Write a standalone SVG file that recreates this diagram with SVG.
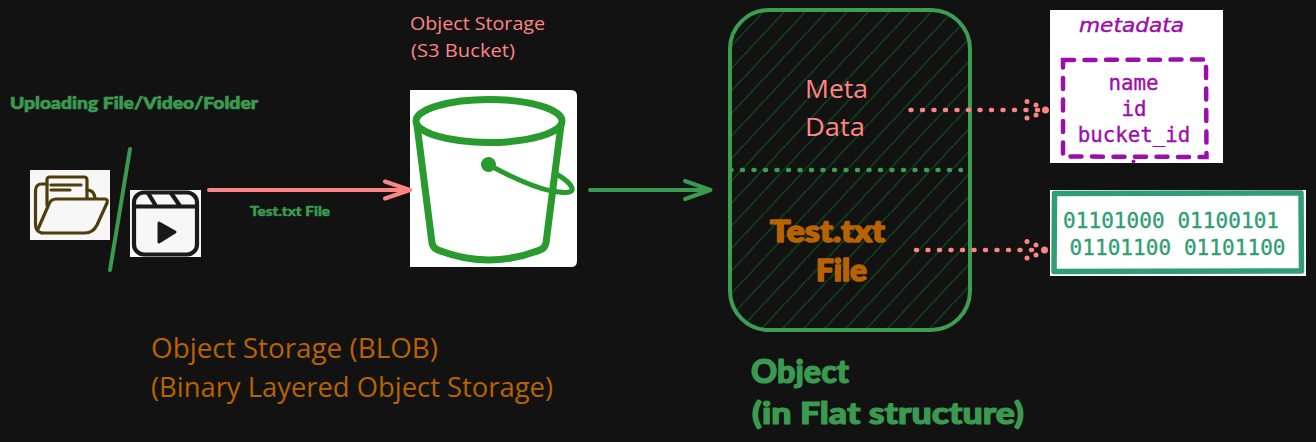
<svg xmlns="http://www.w3.org/2000/svg" width="1316" height="442" viewBox="0 0 1316 442">
<style>
text{font-family:"Open Sans","Noto Sans",sans-serif;white-space:pre}
.pink{fill:#ff8585}
.orange{fill:#b86300}
.disp{font-family:Lato,"Noto Sans",sans-serif;font-weight:900;stroke-linejoin:round}
.g{fill:#3a9a50;stroke:#3a9a50}
.o{fill:#b86300;stroke:#b86300}
.mono{font-family:"DejaVu Sans Mono","Liberation Mono",monospace;stroke-width:0.350}
.line{fill:none;stroke-linecap:round;stroke-linejoin:round}
.bk{fill:none;stroke:#289a2e;stroke-width:7;stroke-linecap:round;stroke-linejoin:round}
.fo{fill:none;stroke:#4f3d0a;stroke-width:3.200;stroke-linecap:round;stroke-linejoin:round}
.cl{fill:none;stroke:#1a1a1a;stroke-width:4.200;stroke-linecap:round;stroke-linejoin:round}
.dot{fill:none;stroke-width:4.500;stroke-linecap:round;stroke-dasharray:1 10.500}
.ph{fill:#ff8585}
</style>
<defs>
<pattern id="hatch" patternUnits="userSpaceOnUse" x="744" y="10" width="21" height="22.5">
<path d="M-2 25 L23 -2.500" stroke="#0d4a1b" stroke-width="1.300" fill="none"/>
</pattern>
</defs>
<rect width="1316" height="442" fill="#121212"/>

<g id="upload-label"><text class="disp g" x="10" y="109" font-size="17" stroke-width="0.700" textLength="248" lengthAdjust="spacingAndGlyphs">Uploading File/Video/Folder</text></g>

<g id="folder-icon">
<rect x="30" y="170" width="80" height="70" fill="#f7f7f7"/>
<path class="fo" d="M47 205V180Q47 177 50 177H84Q87 177 87 180V198"/>
<path class="fo" d="M51 185H81M51 190H70"/>
<path class="fo" d="M47 184H42Q35.500 184 35.500 191V224Q35.500 232 42 233"/>
<path class="fo" d="M87 190Q94 190 95 198"/>
<path class="fo" d="M38 229L49 204Q51 199 56 199H105Q108 199 107 203L97 225Q93 233 85 233H42"/>
</g>

<g id="video-icon">
<rect x="130" y="190" width="71" height="67" fill="#f7f7f7"/>
<rect class="cl" x="134" y="192.500" width="63" height="62" rx="10"/>
<path class="cl" d="M134 206.500H197M148 193L156 206M171 193L180 206"/>
<path d="M159 223L175 232L159 242Z" fill="#1a1a1a" stroke="#1a1a1a" stroke-width="3" stroke-linejoin="round"/>
</g>

<g id="bucket">
<path d="M410 90H571Q577 90 577 96V261Q577 267 571 267H410Z" fill="#fff"/>
<ellipse class="bk" cx="489" cy="121" rx="73" ry="21.500"/>
<path class="bk" d="M417 125L432 243Q433 248 438 250Q489 270 540 250Q545 248 546 243L561 125"/>
<circle cx="488.500" cy="164.500" r="7.500" fill="#289a2e"/>
<path class="bk" style="stroke-width:5" d="M489 165Q530 187 552 191Q574 195 572 188Q570 182 558 175"/>
</g>
<g id="bucket-label" class="pink" font-size="18.500">
<text x="410" y="30" textLength="135" lengthAdjust="spacingAndGlyphs">Object Storage</text>
<text x="411" y="57" textLength="104" lengthAdjust="spacingAndGlyphs">(S3 Bucket)</text>
</g>

<g id="object">
<rect x="730" y="10" width="240" height="320" rx="39" fill="url(#hatch)" stroke="#3d9e52" stroke-width="4"/>
<text class="pink" x="805" y="98" font-size="26" textLength="63" lengthAdjust="spacingAndGlyphs">Meta</text>
<text class="pink" x="805" y="136" font-size="26" textLength="60" lengthAdjust="spacingAndGlyphs">Data</text>
<text class="disp o" x="770" y="242" font-size="31" stroke-width="1.600" textLength="115" lengthAdjust="spacingAndGlyphs">Test.txt</text>
<text class="disp o" x="816" y="281" font-size="31" stroke-width="1.600" textLength="51" lengthAdjust="spacingAndGlyphs">File</text>
</g>

<g id="metadata">
<rect x="1050" y="10" width="173" height="153" fill="#fff"/>
<text x="1079" y="32" font-size="19" fill="#9c0eac" stroke="#9c0eac" stroke-width="0.400" font-style="italic" textLength="105" lengthAdjust="spacingAndGlyphs" style="font-family:'DejaVu Sans',sans-serif">metadata</text>
<path d="M1063 60L1206 59.500L1206.500 157L1063 156.500Z" fill="none" stroke="#9c0eac" stroke-width="4.500" stroke-linecap="round" stroke-dasharray="11 10.500"/>
<circle cx="1133.500" cy="161.500" r="2" fill="#9c0eac"/>
<g font-size="20.800" fill="#9c0eac" stroke="#9c0eac" text-anchor="middle">
<text class="mono" x="1133.500" y="90">name</text>
<text class="mono" x="1134" y="116">id</text>
<text class="mono" x="1134" y="142">bucket_id</text>
</g>
</g>

<g id="binary">
<rect x="1050" y="190" width="256" height="86" fill="#fff"/>
<path d="M1054.500 193.500L1301 193L1301.500 271L1054 271.500Z" fill="none" stroke="#2f9e74" stroke-width="5.500" stroke-linejoin="round"/>
<text class="mono" x="1063" y="228" font-size="21" fill="#2f9e74" stroke="#2f9e74" textLength="216">01101000 01100101</text>
<text class="mono" x="1069.500" y="254.500" font-size="21" fill="#2f9e74" stroke="#2f9e74" textLength="216">01101100 01101100</text>
</g>

<g id="blob-label" class="orange" font-size="28">
<text x="151" y="358" textLength="287" lengthAdjust="spacingAndGlyphs">Object Storage (BLOB)</text>
<text x="151" y="397" textLength="402" lengthAdjust="spacingAndGlyphs">(Binary Layered Object Storage)</text>
</g>

<g id="object-label">
<text class="disp g" x="751" y="383" font-size="32" stroke-width="1.200" textLength="98" lengthAdjust="spacingAndGlyphs">Object</text>
<text class="disp g" x="752" y="424" font-size="31" stroke-width="1.200" textLength="272" lengthAdjust="spacingAndGlyphs">(in Flat structure)</text>
</g>

<g id="connectors">
<path class="line" d="M130 149L110 270" stroke="#3a9a50" stroke-width="4"/>
<path class="line" d="M209 190H409M385 181.500L410 190L385 198.500" stroke="#ff8585" stroke-width="4"/>
<text class="disp g" x="250" y="216" font-size="13" stroke-width="0.500" textLength="80" lengthAdjust="spacingAndGlyphs">Test.txt File</text>
<path class="line" d="M590 190H709M685 181L710.500 190L685 199" stroke="#3a9a50" stroke-width="4"/>
<path class="dot" d="M730.500 170H961" stroke="#3d9e52"/>
<path class="dot" d="M910.500 110H1040" stroke="#ff8585"/>
<path class="dot" d="M916 250H1033" stroke="#ff8585"/>
<g class="ph">
<circle cx="1027" cy="101.500" r="2.500"/><circle cx="1036" cy="105" r="2.500"/><circle cx="1036" cy="115" r="2.500"/><circle cx="1027" cy="118" r="2.500"/><circle cx="1045.500" cy="110" r="3.500"/>
<circle cx="1027" cy="241.500" r="2.500"/><circle cx="1036" cy="245" r="2.500"/><circle cx="1036" cy="255" r="2.500"/><circle cx="1027" cy="258" r="2.500"/><circle cx="1044.500" cy="250" r="3.500"/>
</g>
</g>
</svg>
